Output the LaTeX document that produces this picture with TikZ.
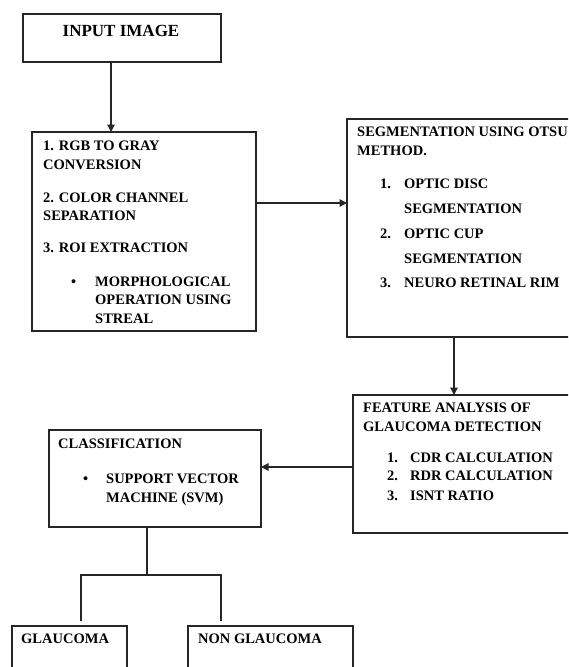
\documentclass[tikz,border=0pt]{standalone}
\usepackage{fontspec}
\setmainfont{Liberation Serif}
\usetikzlibrary{arrows.meta}
\begin{document}
\begin{tikzpicture}[x=1pt,y=-1pt,
  box/.style={draw=black!85, line width=1.3pt, anchor=north west, inner sep=0pt, outer sep=0pt},
  txt/.style={anchor=base west, inner sep=0pt, font=\fontsize{14.5}{17}\selectfont\bfseries, text=black},
  arr/.style={draw=black!85, line width=1.3pt, -{Triangle[length=7.5pt,width=7.5pt]}},
  ln/.style={draw=black!85, line width=1.3pt}]
\useasboundingbox (0,0) rectangle (568,667);
\clip (0,0) rectangle (568,667);
% boxes
\node[box, minimum width=198pt, minimum height=48pt] (b1) at (23,14) {};
\node[box, minimum width=224pt, minimum height=199pt] (b2) at (32,132) {};
\node[box, minimum width=260pt, minimum height=218pt] (b3) at (347,119) {};
\node[box, minimum width=260pt, minimum height=138pt] (b4) at (353,395) {};
\node[box, minimum width=212pt, minimum height=97pt] (b5) at (49,430) {};
\node[box, minimum width=115pt, minimum height=60pt] (g1) at (12,626) {};
\node[box, minimum width=165pt, minimum height=60pt] (g2) at (188,626) {};
% texts
\node[txt, anchor=base, font=\fontsize{17}{20}\selectfont\bfseries] (t1) at (121,36) {INPUT IMAGE};
\node[txt] (t2) at (43,150) {1. RGB TO GRAY};
\node[txt] (t3) at (43,169) {CONVERSION};
\node[txt] (t4) at (43,202) {2. COLOR CHANNEL};
\node[txt] (t5) at (43,220) {SEPARATION};
\node[txt] (t6) at (43,252) {3. ROI EXTRACTION};
\node[txt] (t7) at (71,286) {\textbullet};
\node[txt] (t8) at (95,286) {MORPHOLOGICAL};
\node[txt] (t9) at (95,304) {OPERATION USING};
\node[txt] (t10) at (95,323) {STREAL};
\node[txt] (t11) at (357,136) {SEGMENTATION USING OTSU};
\node[txt] (t12) at (357,155) {METHOD.};
\node[txt] (t13) at (380,188) {1.};
\node[txt] (t14) at (404,188) {OPTIC DISC};
\node[txt] (t15) at (404,213) {SEGMENTATION};
\node[txt] (t16) at (380,238) {2.};
\node[txt] (t17) at (404,238) {OPTIC CUP};
\node[txt] (t18) at (404,263) {SEGMENTATION};
\node[txt] (t19) at (380,287) {3.};
\node[txt] (t20) at (404,287) {NEURO RETINAL RIM};
\node[txt] (t21) at (363,412) {FEATURE ANALYSIS OF};
\node[txt] (t22) at (363,431) {GLAUCOMA DETECTION};
\node[txt] (t23) at (387,462) {1.};
\node[txt] (t24) at (410,462) {CDR CALCULATION};
\node[txt] (t25) at (387,480) {2.};
\node[txt] (t26) at (410,480) {RDR CALCULATION};
\node[txt] (t27) at (387,500) {3.};
\node[txt] (t28) at (410,500) {ISNT RATIO};
\node[txt] (t29) at (58,448) {CLASSIFICATION};
\node[txt] (t30) at (83,483) {\textbullet};
\node[txt] (t31) at (106,483) {SUPPORT VECTOR};
\node[txt] (t32) at (106,502) {MACHINE (SVM)};
\node[txt] (t33) at (21,643) {GLAUCOMA};
\node[txt] (t34) at (198,643) {NON GLAUCOMA};
% connectors
\draw[arr] (111,0 |- b1.south) -- (111,0 |- b2.north);
\draw[arr] (b2.east |- 0,203) -- (b3.west |- 0,203);
\draw[arr] (454,0 |- b3.south) -- (454,0 |- b4.north);
\draw[arr] (b4.west |- 0,467) -- (b5.east |- 0,467);
\coordinate (j) at (147,575);
\coordinate (gL) at (81,621);
\coordinate (gR) at (221,621);
\draw[ln] (147,0 |- b5.south) -- (j);
\draw[ln] (gL) -- (gL |- j) -- (gR |- j) -- (gR);
\end{tikzpicture}
\end{document}
